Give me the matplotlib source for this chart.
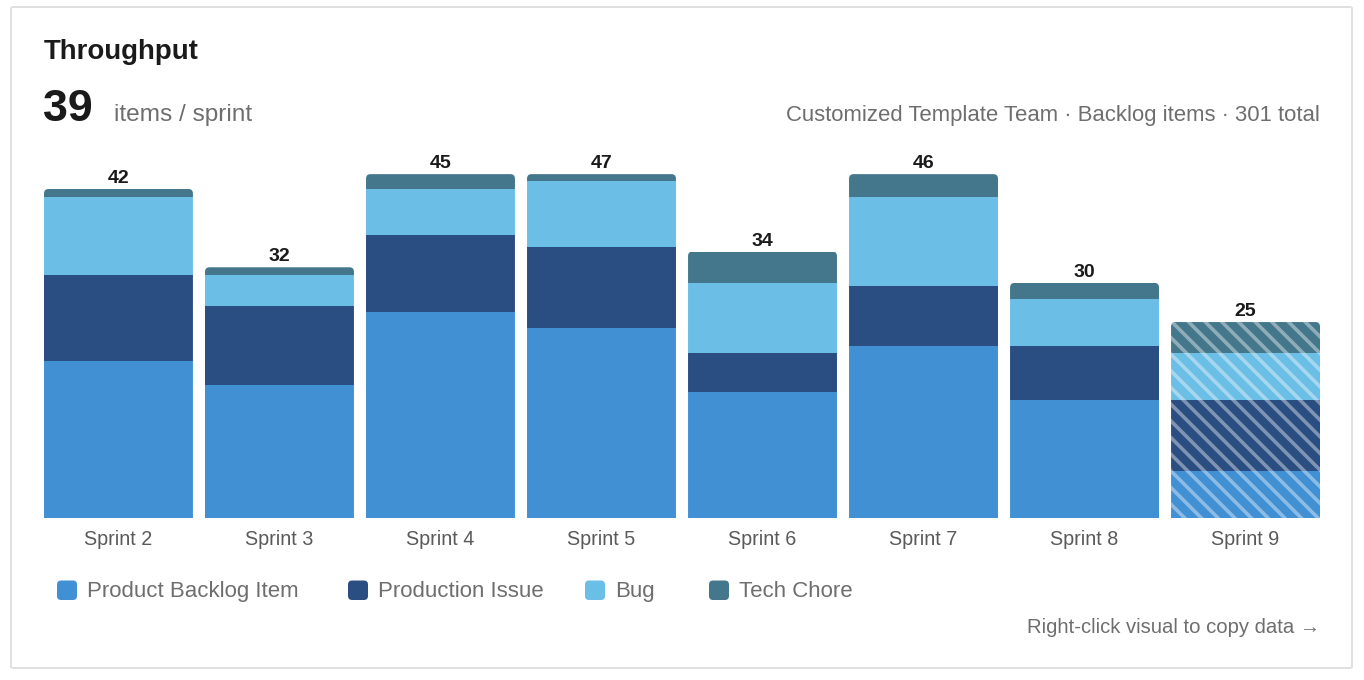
import numpy as np
import matplotlib
matplotlib.use("Agg")
import matplotlib.pyplot as plt
from matplotlib.patches import FancyBboxPatch

# ---------------- data ----------------
sprints = ["Sprint 2", "Sprint 3", "Sprint 4", "Sprint 5", "Sprint 6", "Sprint 7", "Sprint 8", "Sprint 9"]
series_names = ["Product Backlog Item", "Production Issue", "Bug", "Tech Chore"]
pbi = [20, 17, 27, 26, 16, 23, 15, 6]
prod_issue = [11, 10, 10, 11, 5, 8, 7, 9]
bug = [10, 4, 6, 9, 9, 12, 6, 6]
tech_chore = [1, 1, 2, 1, 4, 3, 2, 4]
in_progress = [False, False, False, False, False, False, False, True]
avg_label = "39"
subtitle = "Customized Template Team \u00b7 Backlog items \u00b7 301 total"

colors = ["#4190d4", "#2a4d82", "#6bbee5", "#44778c"]

plt.rcParams["font.family"] = ["Liberation Sans", "DejaVu Sans"]
plt.rcParams["hatch.linewidth"] = 2.6

W, H = 1364, 680
fig = plt.figure(figsize=(W / 100, H / 100), dpi=100)
fig.patch.set_facecolor("white")

def fx(x):
    return x / W

def fy(y):
    return 1 - y / H

# card
card = FancyBboxPatch((fx(11), fy(668)), fx(1352) - fx(11), fy(7) - fy(668),
                      boxstyle="round,pad=0,rounding_size=0.002",
                      transform=fig.transFigure, facecolor="white",
                      edgecolor="#dddddd", linewidth=1.3, zorder=0)
fig.add_artist(card)

# axes
px_per_unit = 7.826
ymax = 50
base_y = 517.7
ax = fig.add_axes([fx(44), fy(base_y), fx(1320) - fx(44), ymax * px_per_unit / H])
ax.set_facecolor("none")

series = [np.array(pbi, float), np.array(prod_issue, float), np.array(bug, float), np.array(tech_chore, float)]
totals = sum(series)
CAP = 43.9
factor = np.minimum(1.0, CAP / totals)
x = np.arange(len(sprints))
bw = 0.925

bottom = np.zeros(len(sprints))
all_patches = [[] for _ in sprints]
for vals, col in zip(series, colors):
    h = vals * factor
    bars = ax.bar(x, h, bw, bottom=bottom, color=col, linewidth=0)
    for i, p in enumerate(bars.patches):
        if in_progress[i]:
            p.set_hatch("\\\\")
            p.set_edgecolor((1, 1, 1, 0.40))
            p.set_linewidth(0)
        all_patches[i].append(p)
    bottom = bottom + h

# rounded tops via clip path
r_x = 4.5 / 161.0
aspect = (1 / px_per_unit) / (1 / 161.0)
for i in range(len(sprints)):
    clip = FancyBboxPatch((x[i] - bw / 2, -2), bw, bottom[i] + 2,
                          boxstyle=f"round,pad=0,rounding_size={r_x}",
                          mutation_aspect=aspect, transform=ax.transData)
    for p in all_patches[i]:
        p.set_clip_path(clip)

for i in range(len(sprints)):
    ax.annotate(f"{int(totals[i])}", (x[i], bottom[i]), xytext=(0, 1.4),
                textcoords="offset points", ha="center", va="bottom",
                fontsize=14, fontweight="bold", color="#1a1a1a")

ax.set_xlim(-0.5 + (1 - bw) / 2, len(sprints) - 0.5 - (1 - bw) / 2)
ax.set_ylim(0, ymax)
ax.set_xticks(x, sprints)
ax.tick_params(axis="x", length=0, pad=9, labelsize=14.2, labelcolor="#5a5a5a")
ax.set_yticks([])
for s in ax.spines.values():
    s.set_visible(False)

# header texts
fig.text(fx(44), fy(59), "Throughput", fontsize=19.9, fontweight="bold", color="#1a1a1a", va="baseline")
fig.text(fx(43), fy(121), avg_label, fontsize=32.3, fontweight="bold", color="#1a1a1a", va="baseline")
fig.text(fx(114), fy(121), "items / sprint", fontsize=17.6, color="#6e6e6e", va="baseline")
fig.text(fx(1320), fy(121), subtitle, fontsize=15.95, color="#6e6e6e", va="baseline", ha="right")

# legend
leg_x = [57, 348, 585, 709]
for name, col, lx in zip(series_names, colors, leg_x):
    sq = FancyBboxPatch((fx(lx), fy(600)), fx(20), 19.5 / H,
                        boxstyle="round,pad=0,rounding_size=0.003",
                        mutation_aspect=W / H,
                        transform=fig.transFigure, facecolor=col, linewidth=0)
    fig.add_artist(sq)
    fig.text(fx(lx + 30), fy(591.5), name, fontsize=16.0, color="#6e6e6e", va="center")

fig.text(fx(1320), fy(633), "Right-click visual to copy data \u2192", fontsize=14.6,
         color="#6e6e6e", va="baseline", ha="right")

fig.savefig("out.png", dpi=100, facecolor="white")
